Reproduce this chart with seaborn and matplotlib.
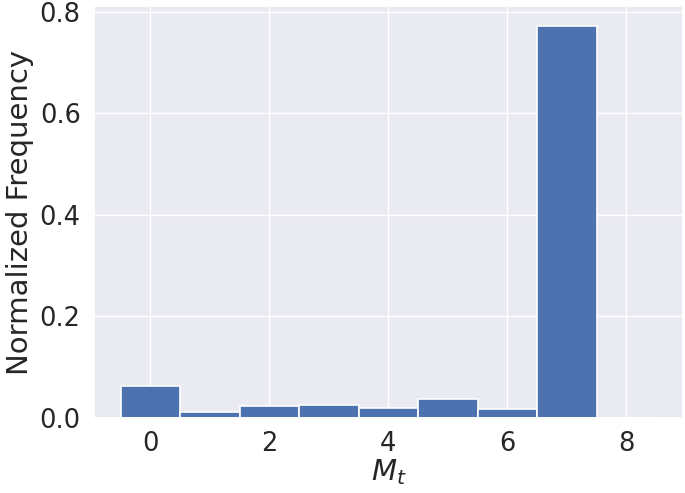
import matplotlib
matplotlib.use('Agg')
import matplotlib.pyplot as plt
import pandas as pd
import seaborn as sns

# M_t values and normalized frequency
mt_values = [0, 1, 2, 3, 4, 5, 6, 7, 8]
frequency = [0.0625, 0.0118, 0.0244, 0.025, 0.019, 0.0368, 0.0185, 0.7725, 0.0]
bin_edges = [-0.5, 0.5, 1.5, 2.5, 3.5, 4.5, 5.5, 6.5, 7.5, 8.5]

df = pd.DataFrame({'Mt': mt_values, 'freq': frequency})

sns.set_theme(style='darkgrid')

fig, ax = plt.subplots(figsize=(6.85, 4.93), dpi=100)

sns.histplot(data=df, x='Mt', weights='freq', bins=bin_edges,
             color='#4C72B0', alpha=1, edgecolor='white', linewidth=1.2, ax=ax)

ax.set_xticks([0, 2, 4, 6, 8])
ax.set_yticks([0.0, 0.2, 0.4, 0.6, 0.8])
ax.tick_params(labelsize=18.5)
ax.set_xlabel('$M_t$', fontsize=21, labelpad=0)
ax.set_ylabel('Normalized Frequency', fontsize=21, labelpad=4)

fig.subplots_adjust(left=0.137, right=0.997, top=0.988, bottom=0.152)
fig.savefig('out.png')
